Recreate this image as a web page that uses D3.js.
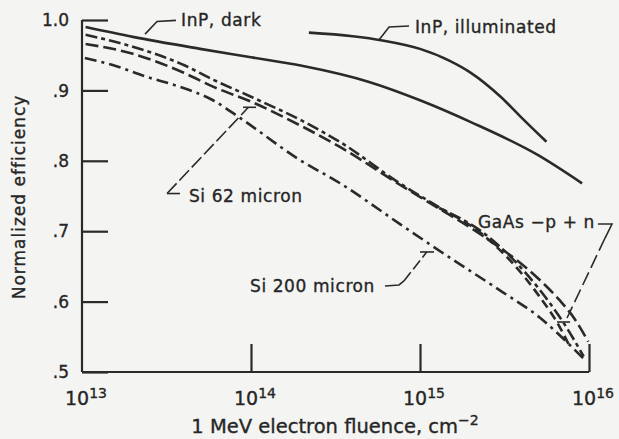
<!DOCTYPE html>
<html><head><meta charset="utf-8">
<script src="https://cdn.jsdelivr.net/npm/d3@7/dist/d3.min.js"></script>
<style>
html,body{margin:0;padding:0;background:#f4f4f2;}
svg{display:block;}
text{font-family:"DejaVu Sans","Liberation Sans",Arial,sans-serif;fill:#262626;stroke:#262626;stroke-width:0.35px;}
</style>
</head><body>
<svg id="chart" width="619" height="439"></svg>
<script>
// ---------- data (fluence in cm^-2, normalized efficiency) ----------
const yTicks = [0.5, 0.6, 0.7, 0.8, 0.9, 1.0];
const yTickLabels = [".5", ".6", ".7", ".8", ".9", "1.0"];
const xTicks = [1e13, 1e14, 1e15, 1e16];
const xTickExps = ["13", "14", "15", "16"];

const inpDarkF = [1.05e13, 2e13, 5e13, 1e14, 2e14, 5e14, 1e15, 2e15, 5e15, 9.1e15];
const inpDarkV = [0.990, 0.976, 0.959, 0.947, 0.935, 0.912, 0.886, 0.855, 0.808, 0.768];

const inpIllumF = [2.2e14, 4e14, 6e14, 1e15, 1.5e15, 2e15, 3e15, 4e15, 5.6e15];
const inpIllumV = [0.982, 0.977, 0.971, 0.959, 0.942, 0.925, 0.891, 0.861, 0.827];

const si62F = [1.05e13, 2e13, 4e13, 6e13, 1e14, 2e14, 3.4e14, 7.6e14, 1.3e15, 2.3e15, 5.1e15, 6.7e15, 8.3e15, 9.9e15];
const si62V = [0.966, 0.952, 0.925, 0.905, 0.884, 0.849, 0.819, 0.766, 0.732, 0.695, 0.631, 0.602, 0.574, 0.543];

const gaasF = [1.05e13, 2e13, 4e13, 6e13, 1e14, 2e14, 3.4e14, 7.6e14, 1.3e15, 2.3e15, 5.1e15, 7.2e15, 9.3e15];
const gaasV = [0.979, 0.962, 0.936, 0.915, 0.891, 0.857, 0.826, 0.768, 0.734, 0.700, 0.617, 0.567, 0.522];

const gaasBF = [1.3e15, 2.3e15, 5.1e15, 6.6e15, 7.7e15];
const gaasBV = [0.733, 0.697, 0.607, 0.567, 0.536];

const si200F = [1.04e13, 1.52e13, 2.43e13, 3.8e13, 5.96e13, 8.6e13, 1.95e14, 3.37e14, 7.62e14, 1.51e15, 2.97e15, 5.13e15, 7.73e15, 9.46e15];
const si200V = [0.946, 0.936, 0.919, 0.905, 0.886, 0.861, 0.801, 0.768, 0.710, 0.662, 0.616, 0.577, 0.538, 0.517];

// ---------- layout ----------
const svg = d3.select("#chart");
const x = d3.scaleLog().domain([1e13, 1e16]).range([82, 589]);
const y = d3.scaleLinear().domain([0.5, 1.0]).range([372, 20]);
const ink = "#2a2a2a";
const P = (lf, v) => [x(Math.pow(10, lf)), y(v)];   // annotation helper (log10 fluence, value)

// axes
const yAxis = d3.axisRight(y).tickValues(yTicks).tickSize(26).tickFormat("");
const gy = svg.append("g").attr("transform", "translate(82,0)").call(yAxis);
gy.select(".domain").attr("d", `M0,${y(1.0)}V${y(0.5)}`);
const xAxis = d3.axisTop(x).tickValues(xTicks.slice(1)).tickSize(28).tickFormat("");
const gx = svg.append("g").attr("transform", `translate(0,${y(0.5)})`).call(xAxis);
gx.select(".domain").attr("d", `M${x(1e13)},0H${x(1e16)}`);
svg.selectAll(".domain, .tick line").attr("stroke", ink).attr("stroke-width", 2.2);

// y tick labels
svg.append("g").selectAll("text").data(yTicks).join("text")
  .attr("x", 69).attr("y", d => y(d)).attr("dy", "0.36em")
  .attr("text-anchor", "end").style("font-size", "17px")
  .text((d, i) => yTickLabels[i]);

// x tick labels
const xl = svg.append("g").selectAll("text").data(xTicks).join("text")
  .attr("x", d => x(d) + 4).attr("y", 405).attr("text-anchor", "middle")
  .style("font-size", "19px");
xl.append("tspan").text("10");
xl.append("tspan").attr("dy", -7).style("font-size", "14px").text((d, i) => xTickExps[i]);

// axis titles
const xt = svg.append("text").attr("x", 335).attr("y", 433).attr("text-anchor", "middle")
  .style("font-size", "19.5px");
xt.append("tspan").text("1 MeV electron fluence, cm");
xt.append("tspan").attr("dy", -8).style("font-size", "14px").text("\u22122");

svg.append("text").attr("transform", "translate(25,197) rotate(-90)")
  .attr("text-anchor", "middle").style("font-size", "17px").style("letter-spacing", "1px")
  .text("Normalized efficiency");

// curves
const line = d3.line().x(d => x(d[0])).y(d => y(d[1])).curve(d3.curveMonotoneX);
const series = [
  {f: inpDarkF, v: inpDarkV, dash: null},
  {f: inpIllumF, v: inpIllumV, dash: null},
  {f: si62F, v: si62V, dash: "13,5"},
  {f: gaasF, v: gaasV, dash: "12,4,4,4"},
  {f: gaasBF, v: gaasBV, dash: "9,5"},
  {f: si200F, v: si200V, dash: "12,5,3,5"}
];
svg.append("g").selectAll("path").data(series).join("path")
  .attr("d", s => line(s.f.map((f, i) => [f, s.v[i]])))
  .attr("fill", "none").attr("stroke", ink).attr("stroke-width", 2.6)
  .attr("stroke-linecap", "butt")
  .attr("stroke-dasharray", s => s.dash);

// annotations (positions in log10-fluence / efficiency units)
const lead = (pts, dash) => svg.append("path")
  .attr("d", d3.line()(pts.map(p => P(p[0], p[1]))))
  .attr("fill", "none").attr("stroke", ink).attr("stroke-width", 1.6)
  .attr("stroke-dasharray", dash || null);
const label = (lf, v, txt) => { const [px, py] = P(lf, v);
  svg.append("text").attr("x", px).attr("y", py).style("font-size", "17px")
    .style("letter-spacing", "0.6px").text(txt); };

// InP, dark
lead([[13.373, 0.980], [13.444, 0.998], [13.556, 0.9995]]);
label(13.586, 0.991, "InP, dark");
// InP, illuminated
lead([[14.757, 0.9716], [14.817, 0.990], [14.935, 0.9915]]);
label(14.970, 0.982, "InP, illuminated");
// Si 62 micron
lead([[13.503, 0.7535], [13.580, 0.7535]]);
lead([[13.503, 0.7535], [13.985, 0.876]], "14,4");
lead([[13.953, 0.876], [14.030, 0.876]]);
label(13.633, 0.7415, "Si 62 micron");
// Si 200 micron
lead([[14.793, 0.6222], [14.876, 0.6236], [14.905, 0.6293]]);
lead([[14.905, 0.6293], [15.040, 0.6705]], "11,4");
lead([[15.000, 0.6705], [15.083, 0.6705]]);
label(13.994, 0.6136, "Si 200 micron");
// GaAs
lead([[16.053, 0.7102], [16.136, 0.7102], [16.095, 0.6903]]);
lead([[16.095, 0.6903], [15.870, 0.5767]], "14,5");
lead([[15.811, 0.5710], [15.888, 0.5710]]);
label(15.343, 0.7046, "GaAs \u2212p + n");
</script>
</body></html>
